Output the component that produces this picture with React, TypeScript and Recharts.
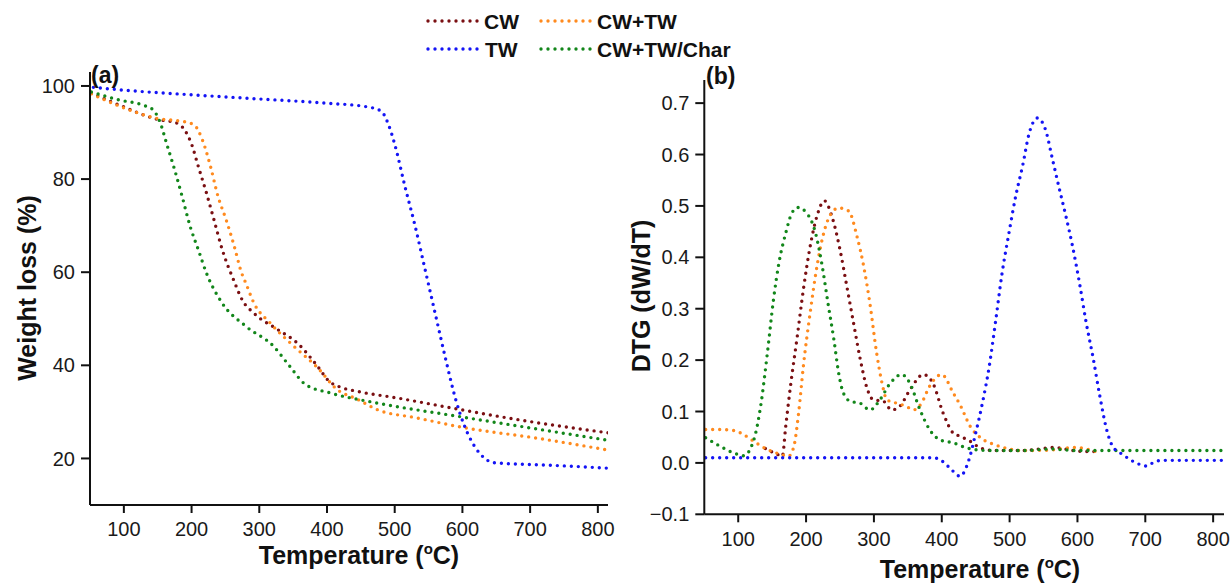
import React from "react";
import { LineChart, Line, XAxis, YAxis } from "recharts";

// ---- TGA (weight loss %) ----
const tgaCwTemp = [52, 75, 100, 125, 150, 175, 190, 200, 210, 222, 233, 245, 263, 275, 292, 327, 356, 386, 403, 420, 445, 503, 597, 679, 815];
const tgaCwWeight = [98.5, 97, 95.5, 94, 92.8, 92.2, 90.5, 87.5, 82.7, 77, 71.3, 65, 58, 54, 51.2, 47.7, 44.8, 39.8, 36.6, 35.3, 34.4, 33, 30.5, 28.4, 25.5];

const tgaMixTemp = [52, 75, 100, 125, 150, 175, 190, 204, 216, 228, 239, 251, 263, 274, 280, 292, 316, 351, 386, 415, 445, 474, 533, 603, 708, 815];
const tgaMixWeight = [98.3, 96.8, 95.3, 94, 93, 92.6, 92.3, 91.6, 88.4, 82.7, 76.3, 71.3, 65.6, 59.8, 57.7, 53.4, 49.1, 44.1, 39.5, 34.8, 32.7, 30.5, 28.7, 26.6, 24.4, 21.8];

const tgaTwTemp = [55, 100, 200, 300, 400, 460, 480, 490, 500, 515, 530, 545, 560, 575, 590, 603, 618, 635, 645, 700, 750, 815];
const tgaTwWeight = [99.7, 99.1, 98.1, 97.2, 96.3, 95.5, 94.6, 92, 87.5, 78.5, 70, 60.5, 51, 41.5, 32.7, 27, 22.6, 19.8, 19.1, 18.7, 18.4, 17.9];

const tgaCharTemp = [52, 93, 128, 143, 154, 163, 175, 186, 198, 210, 222, 245, 280, 321, 345, 368, 404, 474, 591, 815];
const tgaCharWeight = [98.7, 97, 95.9, 94.9, 92, 87.7, 82, 76.3, 69.8, 64.8, 59.8, 53.4, 48.4, 44.1, 39.8, 35.9, 34.1, 31.9, 29.1, 23.9];

// ---- DTG (dW/dT) ----
const dtgCwTemp = [140, 157, 165, 170, 177, 187, 196, 206, 216, 227, 238, 250, 260, 270, 280, 289, 299, 314, 326, 338, 353, 373, 387, 402, 417, 427, 442, 457, 477, 520, 566, 600, 625];
const dtgCwValue = [0.028, 0.017, 0.013, 0.071, 0.149, 0.246, 0.337, 0.421, 0.48, 0.51, 0.48, 0.415, 0.344, 0.272, 0.201, 0.149, 0.123, 0.12, 0.103, 0.11, 0.142, 0.172, 0.155, 0.097, 0.058, 0.052, 0.042, 0.029, 0.024, 0.024, 0.03, 0.023, 0.022];

const dtgMixTemp = [52, 74, 94, 108, 123, 143, 162, 174, 182, 189, 196, 206, 216, 226, 236, 248, 263, 275, 285, 294, 304, 312, 319, 334, 348, 358, 370, 382, 400, 417, 427, 442, 457, 477, 497, 517, 560, 596, 628];
const dtgMixValue = [0.065, 0.065, 0.063, 0.055, 0.042, 0.026, 0.017, 0.013, 0.032, 0.097, 0.188, 0.292, 0.382, 0.447, 0.483, 0.496, 0.49, 0.441, 0.382, 0.311, 0.214, 0.155, 0.123, 0.116, 0.11, 0.103, 0.116, 0.149, 0.172, 0.136, 0.113, 0.071, 0.049, 0.036, 0.028, 0.024, 0.025, 0.03, 0.022];

const dtgTwTemp = [52, 100, 200, 300, 388, 400, 412, 427, 440, 450, 460, 470, 479, 489, 499, 509, 519, 529, 541, 553, 563, 573, 583, 593, 603, 613, 623, 633, 643, 652, 667, 692, 702, 715, 728, 815];
const dtgTwValue = [0.01, 0.01, 0.01, 0.01, 0.01, 0.004, -0.01, -0.026, 0.006, 0.058, 0.117, 0.188, 0.272, 0.37, 0.447, 0.519, 0.577, 0.642, 0.671, 0.648, 0.592, 0.535, 0.48, 0.42, 0.35, 0.272, 0.205, 0.13, 0.065, 0.032, 0.016, -0.003, -0.006, 0.003, 0.005, 0.005];

const dtgCharTemp = [52, 74, 94, 108, 123, 133, 143, 152, 160, 170, 179, 188, 201, 214, 223, 233, 241, 248, 255, 265, 280, 294, 309, 324, 341, 353, 368, 382, 397, 417, 440, 470, 520, 560, 600, 700, 815];
const dtgCharValue = [0.049, 0.032, 0.019, 0.014, 0.045, 0.11, 0.214, 0.318, 0.389, 0.447, 0.486, 0.497, 0.486, 0.447, 0.389, 0.305, 0.24, 0.175, 0.136, 0.12, 0.116, 0.103, 0.123, 0.155, 0.172, 0.155, 0.103, 0.065, 0.045, 0.039, 0.028, 0.024, 0.024, 0.027, 0.024, 0.024, 0.024];

const tempTicks = [100, 200, 300, 400, 500, 600, 700, 800];
const weightTicks = [20, 40, 60, 80, 100];
const dtgTicks = [-0.1, 0, 0.1, 0.2, 0.3, 0.4, 0.5, 0.6, 0.7];

const zip = (t: number[], v: number[]) => t.map((x, i) => ({ t: x, v: v[i] }));

const COLORS = {
  cw: "#7a0f12",
  mix: "#ff8a1e",
  tw: "#1414f5",
  char: "#12861a",
};

const FONT = "'Liberation Sans', Arial, Helvetica, sans-serif";
const DOTS = "0 7";
const DOT_W = 3.4;

const tick = { fill: "#1a1a1a", fontSize: 20, fontFamily: FONT };
const axisStroke = { stroke: "#111", strokeWidth: 2 };

function dotted(color: string) {
  return {
    stroke: color,
    strokeWidth: DOT_W,
    strokeDasharray: DOTS,
    strokeLinecap: "round" as const,
    dot: false,
    activeDot: false,
    isAnimationActive: false,
    type: "monotone" as const,
    dataKey: "v",
  };
}

function TgaChart() {
  return (
    <LineChart width={620} height={583} margin={{ top: 72, right: 12, bottom: 0, left: 0 }}>
      <XAxis
        type="number"
        dataKey="t"
        domain={[50, 815]}
        ticks={tempTicks}
        allowDataOverflow
        height={78}
        axisLine={axisStroke}
        tickLine={axisStroke}
        tickSize={8}
        tickMargin={9}
        tick={tick}
      />
      <YAxis
        type="number"
        domain={[10, 103]}
        ticks={weightTicks}
        allowDataOverflow
        width={90}
        axisLine={axisStroke}
        tickLine={axisStroke}
        tickSize={9}
        tickMargin={6}
        tick={tick}
      />
      <Line data={zip(tgaCwTemp, tgaCwWeight)} {...dotted(COLORS.cw)} name="CW" />
      <Line data={zip(tgaMixTemp, tgaMixWeight)} {...dotted(COLORS.mix)} name="CW+TW" />
      <Line data={zip(tgaCharTemp, tgaCharWeight)} {...dotted(COLORS.char)} name="CW+TW/Char" />
      <Line data={zip(tgaTwTemp, tgaTwWeight)} {...dotted(COLORS.tw)} name="TW" />
    </LineChart>
  );
}

function DtgChart() {
  return (
    <LineChart width={611} height={583} margin={{ top: 80, right: 7, bottom: 0, left: 0 }}>
      <XAxis
        type="number"
        dataKey="t"
        domain={[50, 816]}
        ticks={tempTicks}
        allowDataOverflow
        height={68.7}
        axisLine={axisStroke}
        tickLine={axisStroke}
        tickSize={8}
        tickMargin={9}
        tick={tick}
      />
      <YAxis
        type="number"
        domain={[-0.1, 0.745]}
        ticks={dtgTicks}
        allowDataOverflow
        width={84.3}
        axisLine={axisStroke}
        tickLine={axisStroke}
        tickSize={9}
        tickMargin={6}
        tick={tick}
        tickFormatter={(v: number) => (v < 0 ? "\u2212" + Math.abs(v).toFixed(1) : v.toFixed(1))}
      />
      <Line data={zip(dtgCwTemp, dtgCwValue)} {...dotted(COLORS.cw)} name="CW" />
      <Line data={zip(dtgMixTemp, dtgMixValue)} {...dotted(COLORS.mix)} name="CW+TW" />
      <Line data={zip(dtgCharTemp, dtgCharValue)} {...dotted(COLORS.char)} name="CW+TW/Char" />
      <Line data={zip(dtgTwTemp, dtgTwValue)} {...dotted(COLORS.tw)} name="TW" />
    </LineChart>
  );
}

const legendItems = [
  { label: "CW", color: COLORS.cw, x: 428, y: 21 },
  { label: "CW+TW", color: COLORS.mix, x: 541, y: 21 },
  { label: "TW", color: COLORS.tw, x: 428, y: 49 },
  { label: "CW+TW/Char", color: COLORS.char, x: 541, y: 49 },
];

function Overlay() {
  const title = { fontFamily: FONT, fontWeight: 700, fontSize: 25, fill: "#111" };
  return (
    <svg width={1231} height={583} style={{ position: "absolute", left: 0, top: 0, pointerEvents: "none" }}>
      {legendItems.map((it) => (
        <g key={it.label}>
          <line
            x1={it.x}
            x2={it.x + 52}
            y1={it.y}
            y2={it.y}
            stroke={it.color}
            strokeWidth={DOT_W}
            strokeDasharray={DOTS}
            strokeLinecap="round"
          />
          <text x={it.x + (it.label === "TW" ? 57 : 56)} y={it.y + 7.5} fontFamily={FONT} fontWeight={700} fontSize={21} fill="#111">
            {it.label}
          </text>
        </g>
      ))}
      <text x={91} y={83} fontFamily={FONT} fontWeight={700} fontSize={23} fill="#111">(a)</text>
      <text x={706} y={84} fontFamily={FONT} fontWeight={700} fontSize={23} fill="#111">(b)</text>

      <text {...title} transform="translate(36,288) rotate(-90)" textAnchor="middle">Weight loss (%)</text>
      <text {...title} transform="translate(650,296) rotate(-90)" textAnchor="middle">DTG (dW/dT)</text>

      <text {...title} x={359} y={564} textAnchor="middle">
        Temperature (<tspan fontSize={15} dy={-10}>o</tspan><tspan dy={10}>C)</tspan>
      </text>
      <text {...title} x={980} y={578} textAnchor="middle">
        Temperature (<tspan fontSize={15} dy={-10}>o</tspan><tspan dy={10}>C)</tspan>
      </text>
    </svg>
  );
}

export default function App() {
  return (
    <div style={{ position: "absolute", left: 0, top: 0, width: 1231, height: 583, background: "#fff", overflow: "hidden" }}>
      <div style={{ position: "absolute", left: 0, top: 0 }}>
        <TgaChart />
      </div>
      <div style={{ position: "absolute", left: 620, top: 0 }}>
        <DtgChart />
      </div>
      <Overlay />
    </div>
  );
}
